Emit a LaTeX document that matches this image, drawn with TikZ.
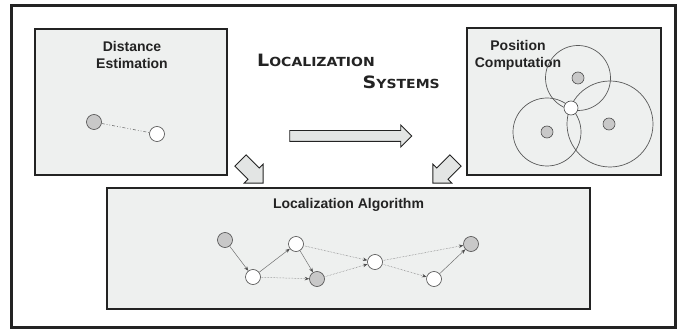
\documentclass[tikz,border=0pt]{standalone}
\usepackage{fontspec}
\setmainfont{Liberation Sans}
\newfontfamily\titlefont{DejaVu Sans}
\usetikzlibrary{positioning, shapes.arrows, arrows.meta}

\definecolor{panelgray}{HTML}{EEF0EF}
\definecolor{dotgray}{HTML}{C8C8C8}
\definecolor{linkgray}{HTML}{707070}
\definecolor{inkgray}{HTML}{232323}

\tikzset{
  panel/.style={draw=inkgray, line width=1.2pt, fill=panelgray, inner sep=0pt},
  heading/.style={font=\bfseries\fontsize{14}{17}\selectfont, text=inkgray, align=center},
  fixed/.style={circle, draw=gray!60!black, fill=dotgray, minimum size=15pt, inner sep=0pt, line width=0.6pt},
  free/.style={fixed, fill=white},
  link/.style={draw=linkgray, line width=0.5pt, -{Stealth[length=4.5pt,width=3.5pt,color=inkgray!80]}},
  hop/.style={link, densely dotted},
  rangering/.style={draw=gray!70!black, line width=0.7pt},
  bigarrow/.style={single arrow, draw=inkgray, fill=panelgray!90!gray, line width=0.9pt,
    inner xsep=0pt, single arrow head indent=0pt}
}

\begin{document}
\begin{tikzpicture}[x=1pt, y=-1pt]
  \useasboundingbox (0,0) rectangle (677,331);
  \draw[inkgray, line width=3pt] (11.5,6) rectangle (675.5,327);

  % the three panels
  \node[panel, minimum width=192pt, minimum height=146pt] (dist) at (131,102) {};
  \node[panel, minimum width=194pt, minimum height=147pt] (pos) at (564,101.5) {};
  \node[panel, minimum width=483pt, minimum height=121pt] (algo) at (348.5,248.5) {};

  \node[heading] (distlabel) at (132,54.5) {Distance\\Estimation};
  \node[heading] (poslabel) at (518,55) {Position\\Computation};
  \node[heading] (algolabel) at (348.5,205) {Localization Algorithm};

  % title
  \node[anchor=base west, inner sep=0pt, text=inkgray] (title1) at (257,67)
    {\titlefont\bfseries\scalebox{1.12}[1]{\fontsize{17}{17}\selectfont L\fontsize{12.5}{12.5}\selectfont OCALIZATION}};
  \node[anchor=base east, inner sep=0pt, text=inkgray] (title2) at (440,89)
    {\titlefont\bfseries\scalebox{1.12}[1]{\fontsize{17}{17}\selectfont S\fontsize{12.5}{12.5}\selectfont YSTEMS}};

  % block arrows
  \node[bigarrow, inner ysep=5pt, single arrow head extend=5.5pt, minimum height=122pt] (flow) at (348,136) {};
  \node[bigarrow, inner ysep=7.5pt, single arrow head extend=5.5pt, minimum height=32pt, rotate=-45] (toalgo1) at (249,169) {};
  \node[bigarrow, inner ysep=7.5pt, single arrow head extend=5.5pt, minimum height=32pt, rotate=-135] (toalgo2) at (447,169) {};

  % distance estimation
  \node[fixed] (d1) at (94,122) {};
  \node[free] (d2) at (157,134) {};
  \draw[linkgray, line width=0.6pt, dash pattern=on 3pt off 2pt on 0.8pt off 2pt on 0.8pt off 2pt] (d1) -- (d2);

  % position computation
  \draw[rangering] (578,78) circle (32.5);
  \draw[rangering] (547,132) circle (34);
  \draw[rangering] (610,124) circle (43);
  \node[fixed, minimum size=12pt] (p1) at (578,78) {};
  \node[fixed, minimum size=12pt] (p2) at (547,132) {};
  \node[fixed, minimum size=12pt] (p3) at (609,124) {};
  \node[free, minimum size=14pt] (p0) at (571,108) {};

  % localization algorithm
  \node[fixed] (n1) at (225,240) {};
  \node[free] (n2) at (253,277) {};
  \node[free] (n3) at (296,244) {};
  \node[fixed] (n4) at (317,279) {};
  \node[free] (n5) at (375,262) {};
  \node[free] (n6) at (434,279) {};
  \node[fixed] (n7) at (471,244) {};
  \draw[link] (n1) -- (n2);
  \draw[link] (n2) -- (n3);
  \draw[hop] (n2) -- (n4);
  \draw[link] (n3) -- (n4);
  \draw[hop] (n3) -- (n5);
  \draw[hop] (n4) -- (n5);
  \draw[hop] (n5) -- (n7);
  \draw[hop] (n5) -- (n6);
  \draw[link] (n6) -- (n7);
\end{tikzpicture}
\end{document}
